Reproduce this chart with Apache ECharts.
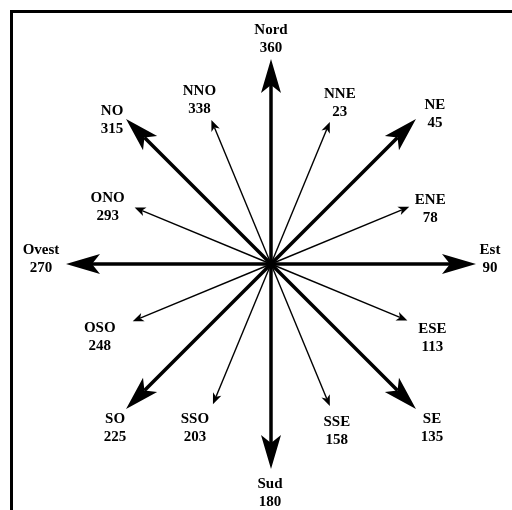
<!DOCTYPE html>
<html>
<head>
<meta charset="utf-8">
<script src="https://cdn.jsdelivr.net/npm/echarts@6/dist/echarts.min.js"></script>
<style>
    html, body { margin: 0; padding: 0; background: #fff; }
    #rose { width: 512px; height: 510px; }
</style>
</head>
<body>
<div id="rose"></div>
<script>
// compass points, clockwise from north
var dirs = ['Nord', 'NNE', 'NE', 'ENE', 'Est', 'ESE', 'SE', 'SSE', 'Sud', 'SSO', 'SO', 'OSO', 'Ovest', 'ONO', 'NO', 'NNO']
// degree labels as printed in the picture
var degLabels = ['360', '23', '45', '78', '90', '113', '135', '158', '180', '203', '225', '248', '270', '293', '315', '338']
// angle each arrow is drawn at (degrees from north, clockwise)
var angles = [0, 22.5, 45, 67.5, 90, 112.5, 135, 157.5, 180, 202.5, 225, 247.5, 270, 292.5, 315, 337.5]
// arrow length relative to the main (cardinal / intercardinal) arrows
var lengths = [1, 0.75, 1, 0.73, 1, 0.72, 1, 0.75, 1, 0.74, 1, 0.73, 1, 0.72, 1, 0.76]

// label offset from arrow tip, px
var labelOffsets = [
    [0, -20], [10, -19], [19, -5], [21, 2], [14, -5], [25, 18], [16, 19], [7, 25],
    [-1, 24], [-18, 24], [-11, 19], [-33, 16], [-25, -5], [-27, 0], [-14, 1], [-12, -20]
]

var chart = echarts.init(document.getElementById('rose'))

function renderArrow(params, api) {
    var i = params.dataIndex
    var len = api.value(0)
    var ang = api.value(1)
    var o = api.coord([0, ang])
    var t = api.coord([len, ang])
    var dx = t[0] - o[0]
    var dy = t[1] - o[1]
    var d = Math.sqrt(dx * dx + dy * dy)
    var ux = dx / d, uy = dy / d
    var nx = -uy, ny = ux
    var major = len > 0.9
    var hl = major ? 34 : 11
    var hw = major ? 10 : 4.5
    var notch = major ? 8 : 3
    var bx = t[0] - ux * (hl - notch)
    var by = t[1] - uy * (hl - notch)
    var ex = t[0] - ux * hl
    var ey = t[1] - uy * hl
    var off = labelOffsets[i]
    return {
        type: 'group',
        children: [
            {
                type: 'line',
                shape: { x1: o[0], y1: o[1], x2: bx, y2: by },
                style: { stroke: '#000', lineWidth: major ? 3.5 : 1.4 },
            },
            {
                type: 'polygon',
                shape: {
                    points: [
                        [t[0], t[1]],
                        [ex + nx * hw, ey + ny * hw],
                        [bx, by],
                        [ex - nx * hw, ey - ny * hw],
                    ],
                },
                style: { fill: '#000' },
            },
            {
                type: 'text',
                x: t[0] + off[0],
                y: t[1] + off[1],
                style: {
                    text: dirs[i] + '\n' + degLabels[i],
                    font: 'bold 15px "Liberation Serif"',
                    fill: '#000',
                    align: 'center',
                    verticalAlign: 'middle',
                    lineHeight: 18,
                },
            },
        ],
    }
}

chart.setOption({
    backgroundColor: '#fff',
    animation: false,
    polar: {
        center: [271, 264],
        radius: 205,
    },
    angleAxis: {
        type: 'value',
        min: 0,
        max: 360,
        startAngle: 90,
        clockwise: true,
        axisLine: { show: false },
        axisTick: { show: false },
        axisLabel: { show: false },
        splitLine: { show: false },
    },
    radiusAxis: {
        type: 'value',
        min: 0,
        max: 1,
        axisLine: { show: false },
        axisTick: { show: false },
        axisLabel: { show: false },
        splitLine: { show: false },
    },
    graphic: [
        {
            type: 'rect',
            shape: { x: 11.5, y: 11.5, width: 620, height: 620 },
            style: { fill: 'none', stroke: '#000', lineWidth: 3 },
            silent: true,
        },
    ],
    series: [
        {
            type: 'custom',
            coordinateSystem: 'polar',
            renderItem: renderArrow,
            data: lengths.map(function (l, i) {
                return [l, angles[i]]
            }),
        },
    ],
})
</script>
</body>
</html>
